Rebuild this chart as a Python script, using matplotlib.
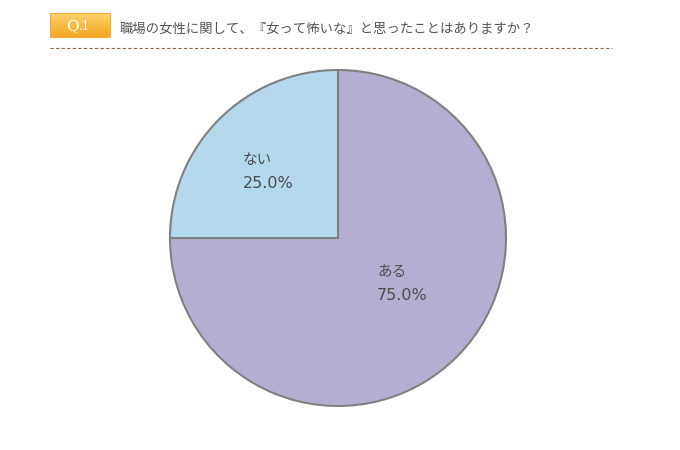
import numpy as np
import matplotlib.pyplot as plt
from matplotlib.colors import LinearSegmentedColormap

plt.rcParams['font.family'] = ['Noto Sans CJK JP', 'DejaVu Sans']

labels = ["ある", "ない"]
values = [75.0, 25.0]
colors = ["#b5aed0", "#b4d8ec"]
title = "職場の女性に関して、『女って怖いな』と思ったことはありますか？"

W, H = 680, 450
fig = plt.figure(figsize=(6.8, 4.5), dpi=100)


def px(x, y):
    # pixel coords (top-left origin) -> figure fraction
    return x / W, 1 - y / H


# header badge
bg = fig.add_axes([0, 0, 1, 1])
bg.axis('off')
grad = np.linspace(0, 1, 50).reshape(-1, 1)
bg.imshow(grad, extent=(50, 110, 37, 13), cmap=LinearSegmentedColormap.from_list(
    "o", ["#fcd36a", "#f5a623"]), aspect='auto', zorder=1)
bg.add_patch(plt.Rectangle((50, 13), 60, 24, fill=False, ec="#f0b040", lw=0.8, zorder=2))
bg.text(72, 26, "Q", color="white", fontsize=11, family="DejaVu Serif",
        ha="center", va="center", zorder=3)
bg.text(84, 27, ".1", color="white", fontsize=8.5, family="DejaVu Serif",
        ha="center", va="center", zorder=3)
bg.text(120, 29, title, color="#555555", fontsize=9.6, ha="left", va="center")
bg.plot([50, 612], [48, 48], color="#8a6a50", lw=0.8, ls=(0, (3, 2)))
bg.set_xlim(0, W)
bg.set_ylim(H, 0)

# pie
cx, cy, r = 338, 238, 168
ax = fig.add_axes([(cx - r) / W, 1 - (cy + r) / H, 2 * r / W, 2 * r / H])
ax.pie(values, colors=colors, startangle=90, counterclock=False,
       wedgeprops=dict(edgecolor="#808080", linewidth=1.5))
ax.set_xlim(-1, 1)
ax.set_ylim(-1, 1)
ax.set_aspect('auto')

label_pos = [(377, 272), (243, 160)]
for lab, v, (x, y) in zip(labels, values, label_pos):
    fx, fy = px(x, y)
    fig.text(fx, fy, lab, color="#4d4d4d", fontsize=10.5, ha="left", va="center")
    fx, fy = px(x, y + 24)
    fig.text(fx, fy, f"{v:.1f}%", color="#4d4d4d", fontsize=11.5,
             family="DejaVu Sans", ha="left", va="center")

fig.savefig("out.png", dpi=100)
